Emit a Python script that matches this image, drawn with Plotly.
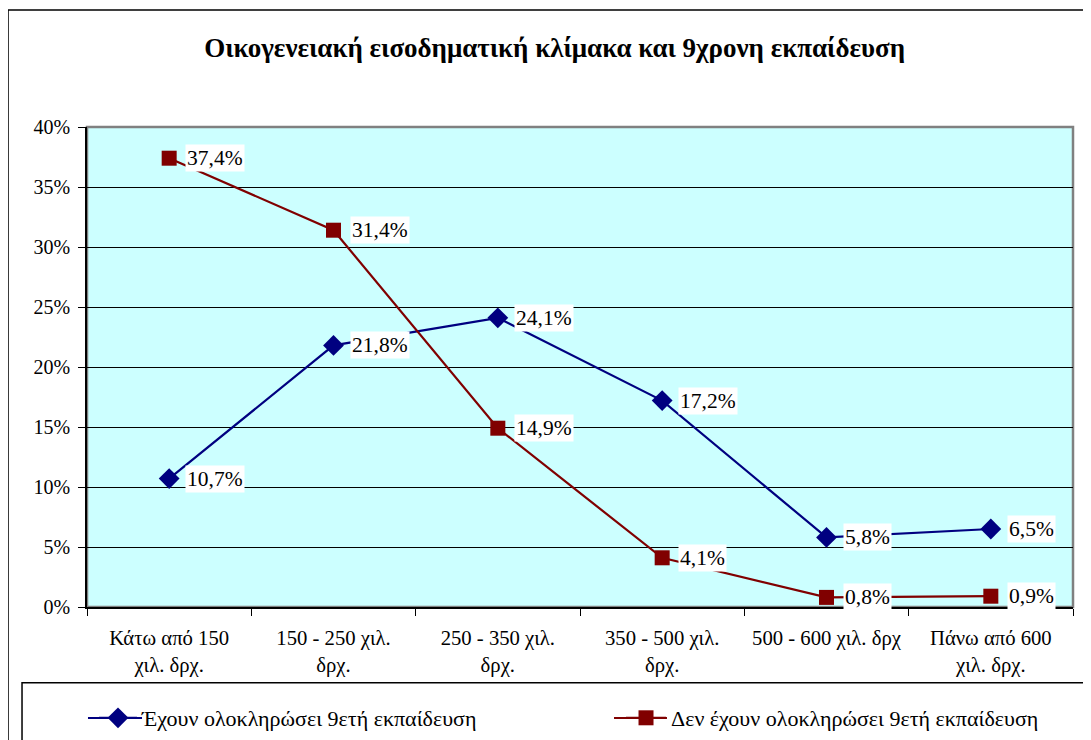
import plotly.graph_objects as go

categories = ["Κάτω από 150<br>χιλ. δρχ.", "150 - 250 χιλ.<br>δρχ.", "250 - 350 χιλ.<br>δρχ.",
              "350 - 500 χιλ.<br>δρχ.", "500 - 600 χιλ. δρχ", "Πάνω από 600<br>χιλ. δρχ."]
completed = [10.7, 21.8, 24.1, 17.2, 5.8, 6.5]
not_completed = [37.4, 31.4, 14.9, 4.1, 0.8, 0.9]
series_names = ["Έχουν ολοκληρώσει 9ετή εκπαίδευση", "Δεν έχουν ολοκληρώσει 9ετή εκπαίδευση"]
y_ticks = [0, 5, 10, 15, 20, 25, 30, 35, 40]
y_tick_labels = [f"{v}%" for v in y_ticks]
title = "Οικογενειακή εισοδηματική κλίμακα και 9χρονη εκπαίδευση"

FONT = "Liberation Serif"
BLUE = "#000080"
RED = "#800000"

fig = go.Figure()
fig.add_trace(go.Scatter(x=categories, y=completed, mode="lines+markers", name=series_names[0],
                         line=dict(color=BLUE, width=2.2),
                         marker=dict(symbol="diamond", size=16, color=BLUE),
                         legend="legend"))
fig.add_trace(go.Scatter(x=categories, y=not_completed, mode="lines+markers", name=series_names[1],
                         line=dict(color=RED, width=2.2),
                         marker=dict(symbol="square", size=15, color=RED),
                         legend="legend2"))

def fmt(v):
    return f"{v:.1f}".replace(".", ",") + "%"

for vals in (completed, not_completed):
    for c, v in zip(categories, vals):
        fig.add_annotation(x=c, y=v, xref="x", yref="y", text=fmt(v), showarrow=False,
                           xanchor="left", yanchor="middle", xshift=16,
                           bgcolor="white", borderpad=1,
                           font=dict(family=FONT, size=21.5, color="black"))

# outer chart border
fig.add_shape(type="rect", xref="paper", yref="paper", x0=-0.0801, y0=-0.5, x1=1.2, y1=1.2437,
              line=dict(color="black", width=1.5), fillcolor="rgba(0,0,0,0)", layer="below")
# legend box
fig.add_shape(type="rect", xref="paper", yref="paper", x0=-0.0659, y0=-0.5, x1=1.2, y1=-0.158,
              line=dict(color="black", width=1.5), fillcolor="rgba(0,0,0,0)")
# plot area border (top/right gray)
fig.add_shape(type="rect", xref="paper", yref="paper", x0=0, y0=0, x1=1, y1=1,
              line=dict(color="#808080", width=2.5), fillcolor="rgba(0,0,0,0)", layer="below")
# longer legend symbol lines
LEG_Y = -0.23125
fig.add_shape(type="line", xref="paper", yref="paper", x0=0.001, x1=0.0558, y0=LEG_Y, y1=LEG_Y,
              line=dict(color=BLUE, width=2.2))
fig.add_shape(type="line", xref="paper", yref="paper", x0=0.5345, x1=0.5882, y0=LEG_Y, y1=LEG_Y,
              line=dict(color=RED, width=2.2))

legend_common = dict(orientation="h", xanchor="left", y=LEG_Y, yanchor="middle",
                     font=dict(family=FONT, size=22, color="black"), bgcolor="rgba(0,0,0,0)")

fig.update_layout(
    width=1091, height=740,
    margin=dict(l=79, r=26, t=119, b=141, autoexpand=False),
    paper_bgcolor="white", plot_bgcolor="#CCFFFF",
    font=dict(family=FONT, size=20, color="black"),
    title=dict(text="<b>" + title + "</b>", x=0.501, xanchor="center", y=0.946, yanchor="middle",
               font=dict(family=FONT, size=27, color="black")),
    showlegend=True,
    legend=dict(x=0.0071, itemwidth=38, **legend_common),
    legend2=dict(x=0.5416, itemwidth=40, **legend_common),
    xaxis=dict(type="category", showgrid=False, tickson="boundaries", ticks="outside", ticklen=7,
               tickcolor="black", showline=True, linecolor="black", linewidth=1.5,
               tickfont=dict(family=FONT, size=20.7), range=[-0.5, 5.5], ticklabelstandoff=11),
    yaxis=dict(range=[0, 40], tickvals=y_ticks, ticktext=y_tick_labels, showgrid=True,
               gridcolor="black", gridwidth=1, ticks="outside", ticklen=7, tickcolor="black",
               showline=True, linecolor="black", linewidth=1.5, zeroline=False,
               tickfont=dict(family=FONT, size=20), ticklabelstandoff=4),
)

fig.write_html("out.html")
